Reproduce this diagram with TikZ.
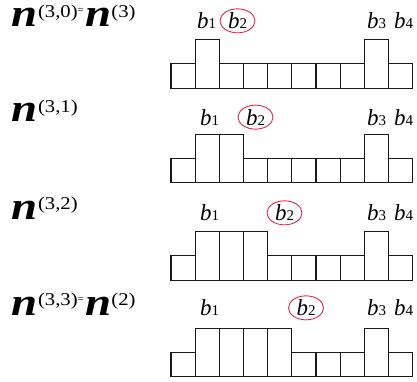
\documentclass[tikz,border=0pt]{standalone}
\usepackage{fontspec}
\usepackage{graphicx}
\setmainfont{Liberation Serif}
\usetikzlibrary{shapes.geometric}
\definecolor{circred}{RGB}{222,40,72}
\newcommand\bign{\scalebox{1.2}[1]{\fontsize{39}{39}\selectfont\bfseries\itshape n}}
\newcommand\sups[1]{\raisebox{9.5pt}{\scalebox{1.15}[1]{\fontsize{18}{18}\selectfont #1}}}
\newcommand\eqs{\raisebox{13pt}{\fontsize{11}{11}\selectfont =}\kern1.5pt}
\newcommand\bb[1]{{\fontsize{23}{23}\selectfont\itshape b}{\fontsize{15}{15}\selectfont #1}}
\tikzset{
  lab/.style={inner sep=0pt, outer sep=0pt, anchor=base west},
  blab/.style={inner sep=0pt, outer sep=0pt, anchor=base west},
  circled/.style={ellipse, draw=circred, line width=0.9pt, inner sep=0pt,
    minimum width=35pt, minimum height=24pt, anchor=base},
  cell/.style={draw=black!90, line width=1.1pt}
}
\begin{document}
\begin{tikzpicture}[x=1pt,y=-1pt]
\useasboundingbox (0,0) rectangle (417,381);
% left labels
\node[lab] (L1) at (12,26.7) {\bign\sups{(3,0)}\eqs\bign\sups{(3)}};
\node[lab] (L2) at (12,121.7) {\bign\sups{(3,1)}};
\node[lab] (L3) at (12,219) {\bign\sups{(3,2)}};
\node[lab] (L4) at (12,315) {\bign\sups{(3,3)}\eqs\bign\sups{(2)}};
% b labels
\foreach \r/\base/\xa/\xc in {1/28.7/197/237.5, 2/125/200/255.5, 3/220.7/200/284.5, 4/315.7/200/306}{
  \node[blab] (b1r\r) at (\xa,\base) {\bb{1}};
  \node[circled] (b2r\r) at (\xc,\base) {\bb{2}};
  \node[blab] (b3r\r) at (367,\base) {\bb{3}};
  \node[blab] (b4r\r) at (394,\base) {\bb{4}};
}
% bars
\def\w{24.17}
\def\hs{24.4}
\foreach \bot/\tall in {88.3/{1,8}, 182.7/{1,2,8}, 280.3/{1,2,3,8}, 376.7/{1,2,3,4,8}}{
  \foreach \i in {0,...,9}{
    \def\h{\hs}
    \foreach \t in \tall {\ifnum\i=\t\relax\xdef\h{48.6}\fi}
    \draw[cell] ({171+\i*\w},\bot) rectangle ({171+(\i+1)*\w},{\bot-\h});
    \xdef\h{\hs}
  }
}
\end{tikzpicture}
\end{document}
